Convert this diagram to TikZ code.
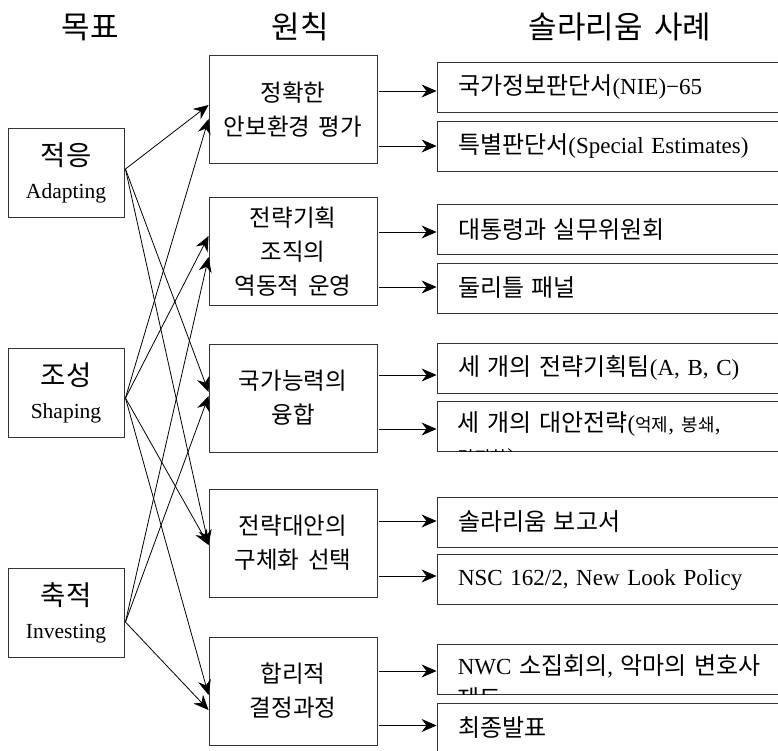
\documentclass[tikz,border=0pt]{standalone}
\usepackage{fontspec}
\setmainfont{Liberation Serif}[WordSpace=1.6]
\newfontfamily\kr{Noto Sans CJK KR}[WordSpace=1.6]
\usetikzlibrary{arrows.meta,calc}
\begin{document}
\begin{tikzpicture}[x=1pt,y=-1pt,
  box/.style={draw=black!80, line width=0.9pt, rectangle, inner sep=0pt},
  lbox/.style={box, minimum width=116pt, minimum height=89pt, align=center, font=\fontsize{21.5}{33}\selectfont},
  mbox/.style={box, minimum width=168pt, minimum height=108pt, align=center, font=\kr\fontsize{23.5}{34}\selectfont},
  rbox/.style={box, minimum width=363pt, minimum height=50pt, text width=321pt, align=left, inner xsep=21pt, font=\fontsize{23}{33}\selectfont},
  hdr/.style={font=\kr\fontsize{31}{31}\selectfont, inner sep=0pt},
  cliptext/.style={anchor=north west, inner sep=0pt, text width=330pt, align=left, font=\fontsize{23}{33}\selectfont},
  arr/.style={-{Stealth[length=15pt,width=13pt,inset=5pt]}, line width=0.8pt}]
\useasboundingbox (0,0) rectangle (778,751);

% headers
\node[hdr] (h1) at (90,27) {목표};
\node[hdr] (h2) at (300,27) {원칙};
\node[hdr] (h3) at (620,27) {솔라리움 사례};

% goals
\node[lbox] (adapt) at (66,172.5) {{\kr\fontsize{27.5}{33}\selectfont 적응}\\Adapting};
\node[lbox] (shape) at (66,393) {{\kr\fontsize{27.5}{33}\selectfont 조성}\\Shaping};
\node[lbox] (invest) at (66,613) {{\kr\fontsize{27.5}{33}\selectfont 축적}\\Investing};

% principles
\node[mbox] (b1) at (293,109.5) {정확한\\안보환경 평가};
\node[mbox] (b2) at (293,251.5) {전략기획\\조직의\\역동적 운영};
\node[mbox] (b3) at (293,398) {국가능력의\\융합};
\node[mbox] (b4) at (293,543) {전략대안의\\구체화 선택};
\node[mbox] (b5) at (293,691) {합리적\\결정과정};

% cases
\newcommand\kk[1]{{\kr\fontsize{24}{33}\selectfont #1}}
\node[rbox] (r1) at (618.5,87.5) {\kk{국가정보판단서}(NIE)−65};
\node[rbox] (r2) at (618.5,146) {\kk{특별판단서}(Special Estimates)};
\node[rbox] (r3) at (618.5,229.5) {\kk{대통령과 실무위원회}};
\node[rbox] (r4) at (618.5,288) {\kk{둘리틀 패널}};
\node[rbox] (r5) at (618.5,368) {\kk{세 개의 전략기획팀}(A, B, C)};
\node[rbox] (r6) at (618.5,426) {};
\node[rbox] (r7) at (618.5,522) {\kk{솔라리움 보고서}};
\node[rbox] (r8) at (618.5,579.5) {NSC 162/2, New Look Policy};
\node[rbox] (r9) at (618.5,669) {};
\node[rbox] (r10) at (618.5,728) {\kk{최종발표}};

\begin{scope}
  \clip (r6.north west) rectangle (r6.south east);
  \node[cliptext] (t6) at ($(r6.north west)+(21,11)$)
    {\kk{세 개의 대안전략}({\kr\fontsize{18}{33}\selectfont 억제}, {\kr\fontsize{18}{33}\selectfont 봉쇄},\\{\kr\fontsize{18}{33}\selectfont 격퇴화})};
\end{scope}
\begin{scope}
  \clip (r9.north west) rectangle (r9.south east);
  \node[cliptext] (t9) at ($(r9.north west)+(21,11)$)
    {NWC \kk{소집회의}, \kk{악마의 변호사}\\\kk{제도}};
\end{scope}

% principles -> cases
\draw[arr] ($(b1.east)+(2,-18.5)$) -- ($(r1.west)+(0,3.5)$);
\draw[arr] ($(b1.east)+(2,36.5)$) -- ($(r2.west)+(0,0)$);
\draw[arr] ($(b2.east)+(2,-19.5)$) -- ($(r3.west)+(0,2.5)$);
\draw[arr] ($(b2.east)+(2,35.5)$) -- ($(r4.west)+(0,-1)$);
\draw[arr] ($(b3.east)+(2,-23)$) -- ($(r5.west)+(0,7)$);
\draw[arr] ($(b3.east)+(2,31)$) -- ($(r6.west)+(0,3)$);
\draw[arr] ($(b4.east)+(2,-22)$) -- ($(r7.west)+(0,-1)$);
\draw[arr] ($(b4.east)+(2,33)$) -- ($(r8.west)+(0,-3.5)$);
\draw[arr] ($(b5.east)+(2,-20)$) -- ($(r9.west)+(0,2)$);
\draw[arr] ($(b5.east)+(2,34.5)$) -- ($(r10.west)+(0,-2.5)$);

% goals -> principles
\draw[arr] ($(adapt.east)+(1,-3.5)$) -- ($(b1.west)+(0,-4.5)$);
\draw[arr] ($(adapt.east)+(1,-3.5)$) -- ($(b3.west)+(0,-6)$);
\draw[arr] ($(adapt.east)+(1,-3.5)$) -- ($(b4.west)+(0,2)$);
\draw[arr] ($(shape.east)+(1,5)$) -- ($(b1.west)+(0,9.5)$);
\draw[arr] ($(shape.east)+(1,5)$) -- ($(b2.west)+(0,-15.5)$);
\draw[arr] ($(shape.east)+(1,5)$) -- ($(b4.west)+(0,2)$);
\draw[arr] ($(shape.east)+(1,5)$) -- ($(b5.west)+(0,4)$);
\draw[arr] ($(invest.east)+(1,9)$) -- ($(b2.west)+(0,5.5)$);
\draw[arr] ($(invest.east)+(1,9)$) -- ($(b3.west)+(0,-2)$);
\draw[arr] ($(invest.east)+(1,9)$) -- ($(b5.west)+(0,19)$);
\end{tikzpicture}
\end{document}
